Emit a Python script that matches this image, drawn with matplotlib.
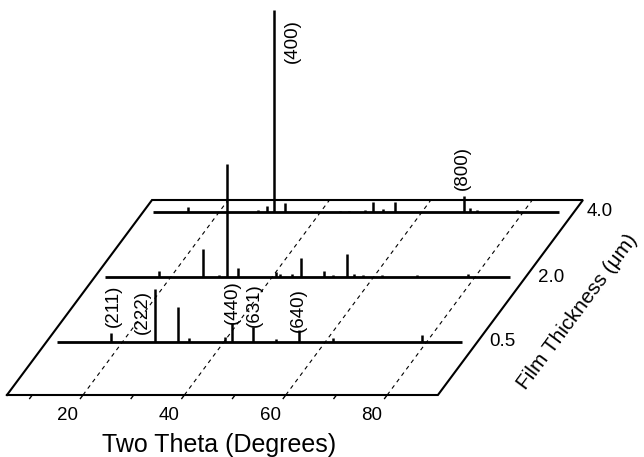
import numpy as np
import matplotlib
matplotlib.use("Agg")
import matplotlib.pyplot as plt
from matplotlib.transforms import Affine2D

plt.rcParams['font.family'] = ['Liberation Sans', 'DejaVu Sans']

# ---------------- data ----------------
thickness_labels = ["0.5", "2.0", "4.0"]
theta_start = 7.0
theta_end = 87.0

peaks_05_theta = [17.7, 26.4, 31.0, 33.1, 40.2, 41.6, 45.8, 50.3, 54.8, 61.5, 79.1]
peaks_05_int = [9, 53, 35, 4, 5, 19, 15, 3, 12, 4, 7]

peaks_20_theta = [17.7, 26.4, 29.5, 31.1, 33.2, 40.7, 41.5, 44.0, 45.7, 50.2,
                  51.9, 54.7, 56.1, 57.9, 61.6, 68.5, 78.7]
peaks_20_int = [6, 28, 2, 113, 9.5, 5, 3, 3, 19, 6, 2, 23, 3, 2, 2, 2, 3]

peaks_40_theta = [13.9, 27.7, 29.4, 30.9, 33.0, 43.8, 45.6, 48.8, 50.3, 52.3,
                  54.7, 68.3, 69.5, 70.8, 78.7]
peaks_40_int = [5, 2, 6, 202, 9, 1.5, 1.5, 2, 10, 3, 10, 16, 4, 2, 2]

x_ticks_major = [20, 40, 60, 80]
x_ticks_minor = [10, 30, 50, 70]
floor_theta = (5.0, 90.0)

# peak labels: (series index, text, theta, height)
peak_labels = [
    (0, "(211)", 18.15, 36),
    (0, "(222)", 23.96, 29.5),
    (0, "(440)", 41.7, 39.5),
    (0, "(631)", 45.96, 37),
    (0, "(640)", 54.8, 32),
    (2, "(400)", 34.46, 171),
    (2, "(800)", 68.0, 44),
]

# ---------------- layout ----------------
series_depth = [53, 118, 183]
floor_depth = 195
skew = 0.744 / 5.07          # degrees of shift per unit of depth

fig = plt.figure(figsize=(6.44, 4.57), dpi=100)
ax = fig.add_axes([0, 0, 1, 1])
ax.set_xlim(3.63, 130.65)
ax.set_ylim(-62, 395)
ax.axis('off')

floor_tr = Affine2D(np.array([[1.0, skew, 0.0], [0.0, 1.0, 0.0], [0.0, 0.0, 1.0]])) + ax.transData

# floor parallelogram
t0, t1 = floor_theta
ax.plot([t0, t1, t1, t0, t0], [0, 0, floor_depth, floor_depth, 0],
        color='black', lw=1.5, transform=floor_tr, solid_joinstyle='miter')

# dashed grid lines and ticks
for t in x_ticks_major:
    ax.plot([t, t], [0, floor_depth], color='black', lw=0.8,
            dashes=(3.6, 3.6), transform=floor_tr)
for t in x_ticks_major + x_ticks_minor:
    ax.plot([t, t], [0, -3.5], color='black', lw=1.0, transform=floor_tr)
for t in x_ticks_major:
    ax.text(t, -21, str(t), transform=floor_tr, ha='center', va='center',
            fontsize=13.5)

# depth labels
for d, lab in zip(series_depth, thickness_labels):
    ax.text(t1 + 2.4, d, lab, transform=floor_tr, ha='left', va='center',
            fontsize=13.5)

# spectra
all_theta = [peaks_05_theta, peaks_20_theta, peaks_40_theta]
all_int = [peaks_05_int, peaks_20_int, peaks_40_int]
series_tr = []
for d, th, it in zip(series_depth, all_theta, all_int):
    tr = Affine2D().translate(skew * d, d) + ax.transData
    series_tr.append(tr)
    ax.plot([theta_start, theta_end], [0, 0], color='black', lw=2.0,
            transform=tr, solid_capstyle='butt')
    ax.vlines(th, 0, it, colors='black', lw=1.8, transform=tr)

for idx, txt, th, h in peak_labels:
    ax.text(th, h, txt, transform=series_tr[idx], rotation=90,
            ha='center', va='center', fontsize=13.5)

# axis titles
ax.text(46.8, -50, "Two Theta (Degrees)", ha='center', va='center', fontsize=18)
ax.text(117.6, 83, "Film Thickness (\u03bcm)", ha='center', va='center',
        fontsize=15, rotation=53.4)

fig.savefig("out.png", dpi=100)
